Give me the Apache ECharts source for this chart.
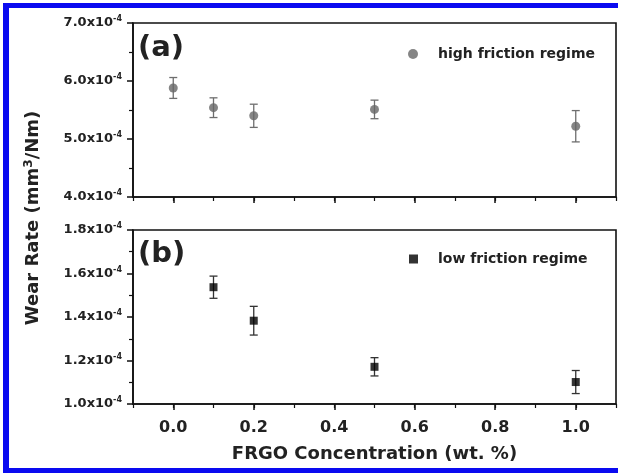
<!DOCTYPE html>
<html>
<head>
<meta charset="utf-8">
<script src="https://cdn.jsdelivr.net/npm/echarts@6/dist/echarts.min.js"></script>
<style>
  html, body { margin: 0; padding: 0; background: #fff; }
  #container { width: 618px; height: 473px; }
</style>
</head>
<body>
<div id="container"></div>
<script>
// FRGO concentration (wt. %)
var concentration = [0.0, 0.1, 0.2, 0.5, 1.0];
var lowConcentration = [0.1, 0.2, 0.5, 1.0];
// wear rate, in units of 1e-4 mm3/Nm
var highFriction = [5.88, 5.54, 5.40, 5.51, 5.22];
var highFrictionErr = [0.18, 0.17, 0.20, 0.16, 0.27];
var lowFriction = [1.537, 1.383, 1.171, 1.101];
var lowFrictionErr = [0.051, 0.066, 0.042, 0.053];
// tick labels
var xTicks = [0.0, 0.2, 0.4, 0.6, 0.8, 1.0];
var topTicks = [4.0, 5.0, 6.0, 7.0];
var bottomTicks = [1.0, 1.2, 1.4, 1.6, 1.8];

var FONT = 'DejaVu Sans';
var chart = echarts.init(document.getElementById('container'));

function pairs(xs, ys) {
  return xs.map(function (x, i) { return [x, ys[i]]; });
}
function errs(xs, ys, es) {
  return xs.map(function (x, i) { return [x, ys[i] - es[i], ys[i] + es[i]]; });
}
function errorBar(color) {
  return function (params, api) {
    var lo = api.coord([api.value(0), api.value(1)]);
    var hi = api.coord([api.value(0), api.value(2)]);
    var w = 4;
    var st = { stroke: color, lineWidth: 1.3 };
    return {
      type: 'group',
      children: [
        { type: 'line', shape: { x1: lo[0], y1: lo[1], x2: hi[0], y2: hi[1] }, style: st },
        { type: 'line', shape: { x1: lo[0] - w, y1: lo[1], x2: lo[0] + w, y2: lo[1] }, style: st },
        { type: 'line', shape: { x1: hi[0] - w, y1: hi[1], x2: hi[0] + w, y2: hi[1] }, style: st }
      ]
    };
  };
}

var sciLabel = {
  fontFamily: FONT,
  fontWeight: 'bold',
  fontSize: 13,
  color: '#222',
  margin: 11,
  rich: {
    m: { fontFamily: FONT, fontWeight: 'bold', fontSize: 13, color: '#222' },
    e: { fontFamily: FONT, fontWeight: 'bold', fontSize: 8, color: '#222', verticalAlign: 'top', padding: [0, 0, 8, 0] }
  }
};

function yAxis(idx, ticks) {
  return {
    type: 'value', gridIndex: idx,
    min: ticks[0], max: ticks[ticks.length - 1],
    interval: +(ticks[1] - ticks[0]).toFixed(4),
    axisLine: { show: true, onZero: false, lineStyle: { color: '#111', width: 1.6 } },
    axisTick: { show: true, inside: false, length: 6, lineStyle: { color: '#111', width: 1.5 } },
    minorTick: { show: true, splitNumber: 2, length: 4, lineStyle: { color: '#111', width: 1.2 } },
    splitLine: { show: false },
    axisLabel: Object.assign({}, sciLabel, {
      formatter: function (v) { return '{m|' + v.toFixed(1) + 'x10}{e|-4}'; }
    })
  };
}

// main x axis: long ticks + labels at xTicks
function xAxis(idx, showLabels) {
  return {
    type: 'value', gridIndex: idx, min: -0.1, max: 1.1,
    axisLine: { show: true, onZero: false, lineStyle: { color: '#111', width: 1.6 } },
    axisTick: { show: true, inside: false, length: 6, customValues: xTicks, lineStyle: { color: '#111', width: 1.5 } },
    splitLine: { show: false },
    axisLabel: {
      show: showLabels, customValues: xTicks,
      fontFamily: FONT, fontWeight: 'bold', fontSize: 16, color: '#222', margin: 16,
      formatter: function (v) { return v.toFixed(1); }
    },
    name: showLabels ? 'FRGO Concentration (wt. %)' : '',
    nameLocation: 'middle', nameGap: 41,
    nameTextStyle: { fontFamily: FONT, fontWeight: 'bold', fontSize: 18, color: '#222' }
  };
}
// overlay x axis: short ticks every 0.1
function xMinorAxis(idx) {
  return {
    type: 'value', gridIndex: idx, min: -0.1, max: 1.1, interval: 0.1, position: 'bottom',
    axisLine: { show: false, onZero: false },
    axisTick: { show: true, inside: false, length: 4, lineStyle: { color: '#111', width: 1.2 } },
    splitLine: { show: false },
    axisLabel: { show: false }
  };
}

var option = {
  backgroundColor: '#fff',
  animation: false,
  grid: [
    { left: 133, top: 23, right: 2, height: 174, show: true, borderColor: '#111', borderWidth: 1.6, backgroundColor: '#fff' },
    { left: 133, top: 230, right: 2, height: 174, show: true, borderColor: '#111', borderWidth: 1.6, backgroundColor: '#fff' }
  ],
  xAxis: [xAxis(0, false), xAxis(1, true), xMinorAxis(0), xMinorAxis(1)],
  yAxis: [yAxis(0, topTicks), yAxis(1, bottomTicks)],
  series: [
    {
      type: 'custom', xAxisIndex: 0, yAxisIndex: 0, z: 2,
      renderItem: errorBar('#6e6e6e'), encode: { x: 0, y: [1, 2] },
      data: errs(concentration, highFriction, highFrictionErr)
    },
    {
      name: 'high friction regime', type: 'scatter', xAxisIndex: 0, yAxisIndex: 0, z: 3,
      symbol: 'circle', symbolSize: 9, itemStyle: { color: '#666' },
      data: pairs(concentration, highFriction)
    },
    {
      type: 'custom', xAxisIndex: 1, yAxisIndex: 1, z: 2,
      renderItem: errorBar('#333'), encode: { x: 0, y: [1, 2] },
      data: errs(lowConcentration, lowFriction, lowFrictionErr)
    },
    {
      name: 'low friction regime', type: 'scatter', xAxisIndex: 1, yAxisIndex: 1, z: 3,
      symbol: 'rect', symbolSize: 8, itemStyle: { color: '#000' },
      data: pairs(lowConcentration, lowFriction)
    }
  ],
  legend: [
    {
      data: ['high friction regime'], left: 403, top: 42, itemWidth: 10, itemHeight: 10, itemGap: 0,
      textStyle: { fontFamily: FONT, fontWeight: 'bold', fontSize: 14, color: '#222', padding: [0, 0, 0, 15] }
    },
    {
      data: ['low friction regime'], left: 404, top: 247, itemWidth: 9, itemHeight: 9,
      textStyle: { fontFamily: FONT, fontWeight: 'bold', fontSize: 14, color: '#222', padding: [0, 0, 0, 15] }
    }
  ],
  graphic: [
    { type: 'text', left: 138, top: 34, style: { text: '(a)', fontFamily: FONT, fontWeight: 'bold', fontSize: 29, fill: '#222' } },
    { type: 'text', left: 138, top: 240, style: { text: '(b)', fontFamily: FONT, fontWeight: 'bold', fontSize: 29, fill: '#222' } },
    {
      type: 'text', x: 33, y: 218, rotation: Math.PI / 2,
      style: {
        text: '{t|Wear Rate (mm}{s|3}{t|/Nm)}', align: 'center', verticalAlign: 'middle',
        rich: {
          t: { fontFamily: FONT, fontWeight: 'bold', fontSize: 18, fill: '#222' },
          s: { fontFamily: FONT, fontWeight: 'bold', fontSize: 12, fill: '#222', verticalAlign: 'top', padding: [0, 0, 8, 0] }
        }
      }
    },
    // blue page frame
    { type: 'rect', left: 3, top: 3, shape: { width: 615, height: 5 }, style: { fill: '#0a0af0' } },
    { type: 'rect', left: 3, top: 3, shape: { width: 6, height: 470 }, style: { fill: '#0a0af0' } },
    { type: 'rect', left: 3, top: 468, shape: { width: 615, height: 5 }, style: { fill: '#0a0af0' } }
  ]
};

chart.setOption(option);
</script>
</body>
</html>
